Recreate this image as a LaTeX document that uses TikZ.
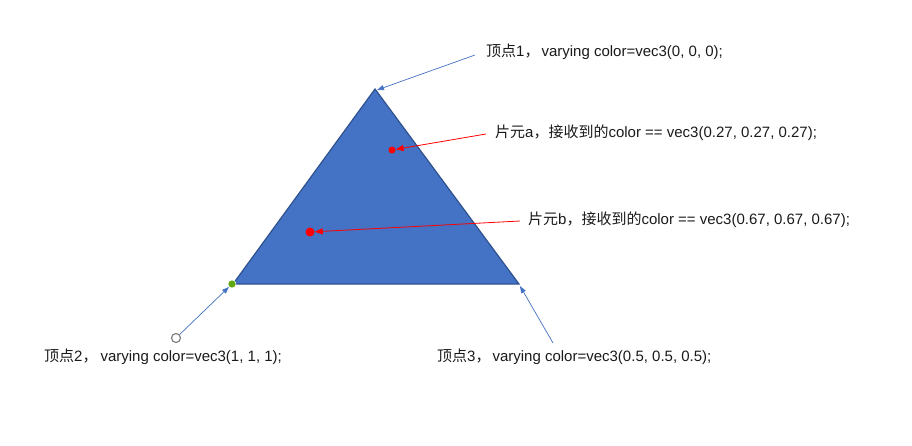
\documentclass[tikz,border=0pt]{standalone}
\usepackage{fontspec}
\setmainfont{Liberation Sans}
\newfontfamily\zhfont{Noto Sans CJK SC}
\usepackage{tikz}
\usepackage{xcolor}
\usetikzlibrary{arrows.meta}

\definecolor{triblue}{HTML}{4472C4}
\definecolor{triedge}{HTML}{2F528F}
\definecolor{fragred}{HTML}{FF0000}
\definecolor{dotgreen}{HTML}{5FA80F}
\definecolor{txtgray}{HTML}{1A1A1A}
\newcommand{\zh}[1]{{\zhfont #1}}

\tikzset{
  lbl/.style={anchor=west, inner sep=0pt, text=txtgray,
    font=\fontsize{15}{17}\selectfont},
  vtxarrow/.style={draw=triblue, line width=0.7pt, -{Triangle[length=7pt, width=5pt]}},
  fragarrow/.style={draw=fragred, line width=0.8pt, -{Triangle[length=8pt, width=6pt]}}
}

\begin{document}
\begin{tikzpicture}[x=1pt, y=-1pt]
  \useasboundingbox (0, 0) rectangle (912, 445);

  % Triangle
  \coordinate (v1) at (375, 89);
  \coordinate (v2) at (233, 284);
  \coordinate (v3) at (519, 284);
  \draw[fill=triblue, draw=triedge, line width=1.2pt, line join=miter]
     (v1) -- (v2) -- (v3) -- cycle;

  % Vertex markers
  \node[circle, fill=dotgreen, draw=white, line width=0.5pt,
        inner sep=0pt, minimum size=8pt] (dot2) at (232, 284) {};
  \node[circle, draw=gray, line width=1.2pt, fill=white,
        inner sep=0pt, minimum size=9pt] (ring2) at (176, 338) {};

  % Fragments
  \node[circle, fill=fragred, inner sep=0pt, minimum size=7pt] (fa) at (392, 150) {};
  \node[circle, fill=fragred, inner sep=0pt, minimum size=9pt] (fb) at (310, 232) {};

  % Labels
  \node[lbl] (l1) at (486, 52) {\zh{顶点}1\zh{，}\hspace{2pt}varying color=vec3(0, 0, 0);};
  \node[lbl] (la) at (495, 133) {\zh{片元}a\zh{，接收到的}color == vec3(0.27, 0.27, 0.27);};
  \node[lbl] (lb) at (528, 220) {\zh{片元}b\zh{，接收到的}color == vec3(0.67, 0.67, 0.67);};
  \node[lbl] (l2) at (44, 357) {\zh{顶点}2\zh{，}\hspace{3pt}varying color=vec3(1, 1, 1);};
  \node[lbl] (l3) at (437, 357) {\zh{顶点}3\zh{，}\hspace{2pt}varying color=vec3(0.5, 0.5, 0.5);};

  % Connectors
  \coordinate (s1) at (475, 55);
  \coordinate (s3) at (553, 343);
  \coordinate (t1) at (377, 90);
  \coordinate (t3) at (520, 286);
  \draw[vtxarrow] (s1) -- (t1);
  \draw[vtxarrow] (s3) -- (t3);
  \draw[vtxarrow] (ring2) -- (dot2);
  \coordinate (sa) at (486, 134);
  \coordinate (sb) at (520, 221);
  \draw[fragarrow] (sa) -- (fa);
  \draw[fragarrow] (sb) -- (fb);
\end{tikzpicture}
\end{document}
